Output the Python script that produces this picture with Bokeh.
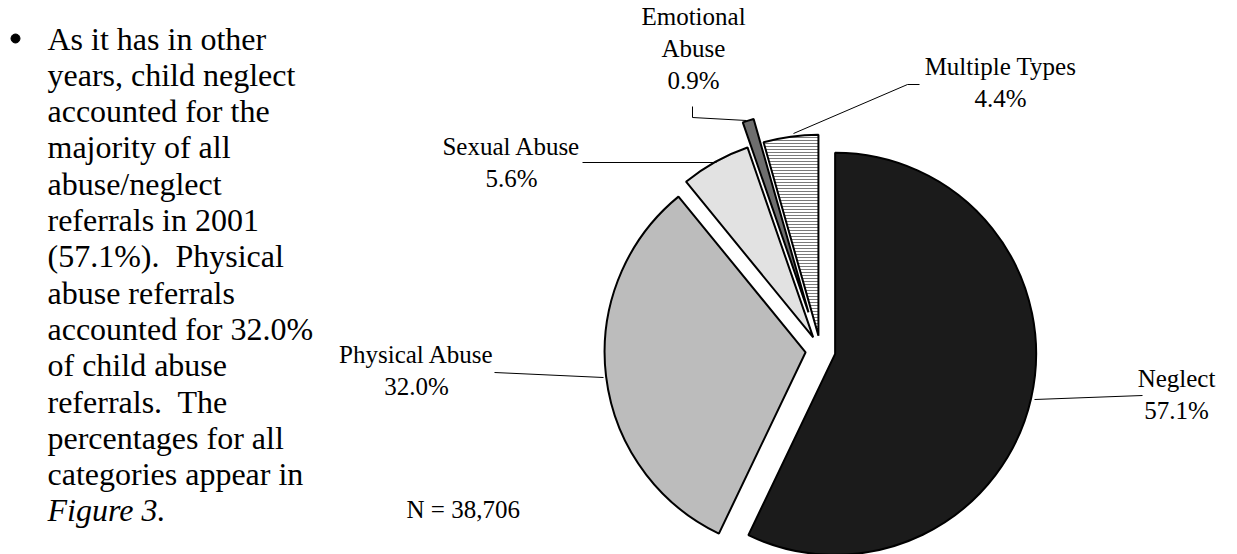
import math
from bokeh.plotting import figure
from bokeh.layouts import row
from bokeh.models import Range1d
from bokeh.core.properties import value
from bokeh.embed import file_html
from bokeh.resources import INLINE

# ---------------- data ----------------
categories = ["Neglect", "Physical Abuse", "Sexual Abuse", "Emotional Abuse", "Multiple Types"]
percents = [57.1, 32.0, 5.6, 0.9, 4.4]
label_lines = [["Neglect", "57.1%"], ["Physical Abuse", "32.0%"], ["Sexual Abuse", "5.6%"],
               ["Emotional", "Abuse", "0.9%"], ["Multiple Types", "4.4%"]]
n_text = "N = 38,706"
bullet_lines = ["As it has in other", "years, child neglect", "accounted for the", "majority of all",
                "abuse/neglect", "referrals in 2001", "(57.1%).\u00a0 Physical", "abuse referrals",
                "accounted for 32.0%", "of child abuse", "referrals.\u00a0 The", "percentages for all",
                "categories appear in"]
bullet_last = "Figure 3."

# ---------------- style / layout ----------------
FONT = value("Liberation Serif")
W, H = 1237, 554  # data y = H - screen y
SPLIT = 330
TY = 9  # text baseline correction (px up)
fills = ["#1b1b1b", "#bcbcbc", "#e2e2e2", "#6e6e6e", "white"]
hatches = [None, None, None, None, "horizontal_line"]
explode = [15, 15, 15, 40, 15]
cx, cy, R = 820, 350, 201

# label positions (screen coords): (center x, first baseline y)
label_pos = [(1176, 387), (416, 363), (511, 155), (693, 25), (1000, 75)]
line_gap = 32
leaders = [[(1034, 399), (1142, 395)],
           [(494, 372), (603, 377)],
           [(582, 162), (716, 162)],
           [(692, 106), (692, 117), (746, 120)],
           [(919, 84), (907, 84), (793, 133)]]


def fig(x0, x1):
    p = figure(width=x1 - x0, height=H, x_range=Range1d(x0, x1), y_range=Range1d(0, H),
               output_backend="svg", toolbar_location=None, x_axis_location=None,
               y_axis_location=None, min_border=0)
    p.outline_line_color = None
    p.grid.visible = False
    p.background_fill_color = "white"
    p.border_fill_color = "white"
    return p


# ---------------- left: bullet text ----------------
left = fig(0, SPLIT)
gap = 36.3
by = [H - (47 - TY + gap * i) for i in range(len(bullet_lines))]
left.text(x=[47] * len(bullet_lines), y=by, text=bullet_lines, text_font=FONT,
          text_font_size=value("32px"), text_color="black", text_baseline="alphabetic",
          text_align="left")
left.text(x=[47], y=[H - (47 - TY + gap * len(bullet_lines))], text=[bullet_last], text_font=FONT,
          text_font_size=value("32px"), text_font_style="italic", text_color="black",
          text_baseline="alphabetic", text_align="left")
left.scatter(x=[15], y=[H - 38], size=9, marker="circle", fill_color="black", line_color="black")

# ---------------- right: exploded pie ----------------
p = fig(SPLIT, W)
cum = 0.0
for i, pct in enumerate(percents):
    t0 = cum * 3.6
    t1 = (cum + pct) * 3.6
    cum += pct
    tm = math.radians((t0 + t1) / 2)
    vx = cx + explode[i] * math.sin(tm)
    vy = (H - cy) + explode[i] * math.cos(tm)
    kw = {}
    if hatches[i]:
        kw = dict(hatch_pattern=hatches[i], hatch_color="#7a7a7a", hatch_scale=3, hatch_weight=1)
    p.wedge(x=[vx], y=[vy], radius=R, start_angle=math.radians(90 - t1), end_angle=math.radians(90 - t0),
            direction="anticlock", fill_color=fills[i], line_color="black", line_width=2, **kw)

for pts in leaders:
    p.line(x=[q[0] for q in pts], y=[H - q[1] for q in pts], line_color="black", line_width=1)

for (lx, ly), lines in zip(label_pos, label_lines):
    p.text(x=[lx] * len(lines), y=[H - (ly - TY + line_gap * k) for k in range(len(lines))], text=lines,
           text_font=FONT, text_font_size=value("25px"), text_color="black",
           text_align="center", text_baseline="alphabetic")

p.text(x=[406], y=[H - (518 - TY)], text=[n_text], text_font=FONT, text_font_size=value("25px"),
       text_color="black", text_align="left", text_baseline="alphabetic")

layout = row(left, p, spacing=0)
open("out.html", "w").write(file_html(layout, INLINE))
